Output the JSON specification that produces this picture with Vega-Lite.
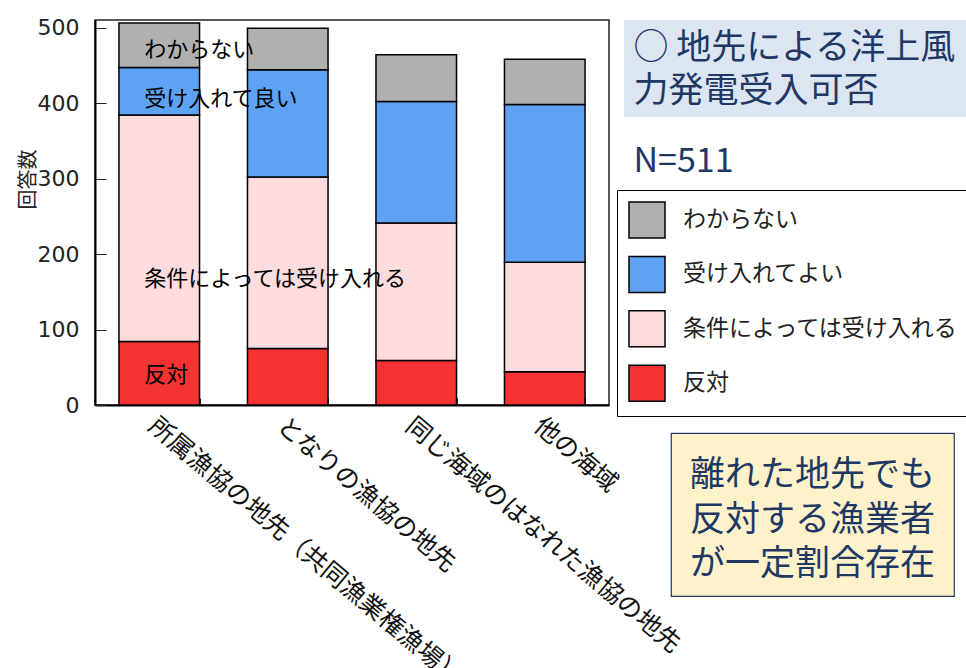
{
  "$schema": "https://vega.github.io/schema/vega-lite/v6.json",
  "background": "white",
  "padding": {"left": 17, "top": 15, "right": 0, "bottom": 0},
  "config": {"font": "Noto Sans CJK JP"},
  "spacing": 15,
  "bounds": "flush",
  "hconcat": [
    {
      "width": 514,
      "height": 385,
      "view": {"stroke": "#222", "strokeWidth": 1.5},
      "layer": [
        {
          "data": {"values": [
            {"area": "所属漁協の地先（共同漁業権漁場）", "answer": "反対", "k": 1, "n": 84},
            {"area": "所属漁協の地先（共同漁業権漁場）", "answer": "条件によっては受け入れる", "k": 2, "n": 300},
            {"area": "所属漁協の地先（共同漁業権漁場）", "answer": "受け入れてよい", "k": 3, "n": 63},
            {"area": "所属漁協の地先（共同漁業権漁場）", "answer": "わからない", "k": 4, "n": 59},
            {"area": "となりの漁協の地先", "answer": "反対", "k": 1, "n": 75},
            {"area": "となりの漁協の地先", "answer": "条件によっては受け入れる", "k": 2, "n": 227},
            {"area": "となりの漁協の地先", "answer": "受け入れてよい", "k": 3, "n": 142},
            {"area": "となりの漁協の地先", "answer": "わからない", "k": 4, "n": 55},
            {"area": "同じ海域のはなれた漁協の地先", "answer": "反対", "k": 1, "n": 59},
            {"area": "同じ海域のはなれた漁協の地先", "answer": "条件によっては受け入れる", "k": 2, "n": 182},
            {"area": "同じ海域のはなれた漁協の地先", "answer": "受け入れてよい", "k": 3, "n": 161},
            {"area": "同じ海域のはなれた漁協の地先", "answer": "わからない", "k": 4, "n": 62},
            {"area": "他の海域", "answer": "反対", "k": 1, "n": 44},
            {"area": "他の海域", "answer": "条件によっては受け入れる", "k": 2, "n": 145},
            {"area": "他の海域", "answer": "受け入れてよい", "k": 3, "n": 209},
            {"area": "他の海域", "answer": "わからない", "k": 4, "n": 60}
          ]},
          "mark": {"type": "bar", "stroke": "black", "strokeWidth": 1.5},
          "encoding": {
            "x": {
              "field": "area", "type": "nominal",
              "sort": ["所属漁協の地先（共同漁業権漁場）", "となりの漁協の地先", "同じ海域のはなれた漁協の地先", "他の海域"],
              "scale": {"paddingInner": 0.373, "paddingOuter": 0.1865},
              "axis": {
                "title": null, "labelAngle": 40, "labelAlign": "left", "labelBaseline": "top",
                "labelFontSize": 25, "labelColor": "#111", "labelLimit": 600, "labelPadding": 15,
                "labelOverlap": false, "tickBand": "extent", "tickSize": -7, "tickColor": "#222",
                "domainColor": "black", "domainWidth": 2
              }
            },
            "y": {
              "field": "n", "type": "quantitative",
              "scale": {"domain": [0, 510], "nice": false},
              "axis": {
                "values": [0, 100, 200, 300, 400, 500], "title": "回答数", "titleFontSize": 20,
                "titleFontWeight": "normal", "titleColor": "#222", "titleX": -67, "titleY": 159,
                "titleAngle": -90, "titleAlign": "center", "titleBaseline": "middle",
                "labelFont": "DejaVu Sans", "labelFontSize": 22, "labelColor": "#222", "labelPadding": 27, "tickSize": -11,
                "tickColor": "#222", "domainColor": "black", "domainWidth": 2, "grid": false
              }
            },
            "color": {
              "field": "answer", "type": "nominal",
              "scale": {
                "domain": ["わからない", "受け入れてよい", "条件によっては受け入れる", "反対"],
                "range": ["#b0b0b0", "#5ea3f3", "#fcdcdc", "#f53333"]
              },
              "legend": {
                "orient": "none", "legendX": 522, "legendY": 170, "title": null,
                "symbolType": "square", "symbolSize": 1296, "symbolStrokeColor": "black",
                "symbolStrokeWidth": 1.5, "symbolOpacity": 1, "labelFontSize": 23, "labelColor": "#222",
                "labelOffset": 17, "rowPadding": 12.4, "padding": 11, "fillColor": "white",
                "strokeColor": "black", "labelLimit": 400
              }
            },
            "order": {"field": "k", "type": "quantitative"}
          }
        },
        {
          "data": {"values": [
            {"area": "所属漁協の地先（共同漁業権漁場）", "label": "わからない", "v": 470},
            {"area": "所属漁協の地先（共同漁業権漁場）", "label": "受け入れて良い", "v": 406},
            {"area": "所属漁協の地先（共同漁業権漁場）", "label": "条件によっては受け入れる", "v": 167},
            {"area": "所属漁協の地先（共同漁業権漁場）", "label": "反対", "v": 40}
          ]},
          "mark": {"type": "text", "align": "left", "baseline": "middle", "dx": -15, "fontSize": 22, "color": "black"},
          "encoding": {
            "x": {"field": "area", "type": "nominal", "sort": ["所属漁協の地先（共同漁業権漁場）", "となりの漁協の地先", "同じ海域のはなれた漁協の地先", "他の海域"]},
            "y": {"field": "v", "type": "quantitative"},
            "text": {"field": "label"}
          }
        }
      ]
    },
    {
      "spacing": 0,
      "bounds": "flush",
      "vconcat": [
        {
          "width": 343,
          "height": 97,
          "view": {"fill": "#dce6f2", "stroke": null},
          "data": {"values": [
            {"line": 1, "t": "○ 地先による洋上風"},
            {"line": 2, "t": "力発電受入可否"}
          ]},
          "mark": {"type": "text", "align": "left", "baseline": "middle", "dx": -162, "dy": 1, "fontSize": 35, "color": "#1f3864"},
          "encoding": {
            "y": {"field": "line", "type": "ordinal", "axis": null, "scale": {"type": "point", "padding": 0.628}},
            "text": {"field": "t"}
          }
        },
        {
          "width": 343,
          "height": 316,
          "view": {"stroke": null},
          "data": {"values": [{"t": "N=511"}]},
          "mark": {"type": "text", "align": "left", "baseline": "middle", "dx": -162, "dy": -113, "fontSize": 34, "color": "#1f3864"},
          "encoding": {"text": {"field": "t"}}
        },
        {
          "spacing": 0,
          "bounds": "flush",
          "hconcat": [
            {
              "width": 47,
              "height": 163,
              "view": {"stroke": null},
              "data": {"values": [{"t": ""}]},
              "mark": {"type": "text"},
              "encoding": {"text": {"field": "t"}}
            },
            {
              "width": 283,
              "height": 163,
              "view": {"fill": "#fef2cb", "stroke": "#1f3864", "strokeWidth": 1.2},
              "data": {"values": [
                {"line": 1, "t": "離れた地先でも"},
                {"line": 2, "t": "反対する漁業者"},
                {"line": 3, "t": "が一定割合存在"}
              ]},
              "mark": {"type": "text", "align": "center", "baseline": "middle", "dy": 5, "fontSize": 35, "color": "#1f3864"},
              "encoding": {
                "y": {"field": "line", "type": "ordinal", "axis": null, "scale": {"type": "point", "padding": 0.835}},
                "text": {"field": "t"}
              }
            }
          ]
        }
      ]
    }
  ]
}
